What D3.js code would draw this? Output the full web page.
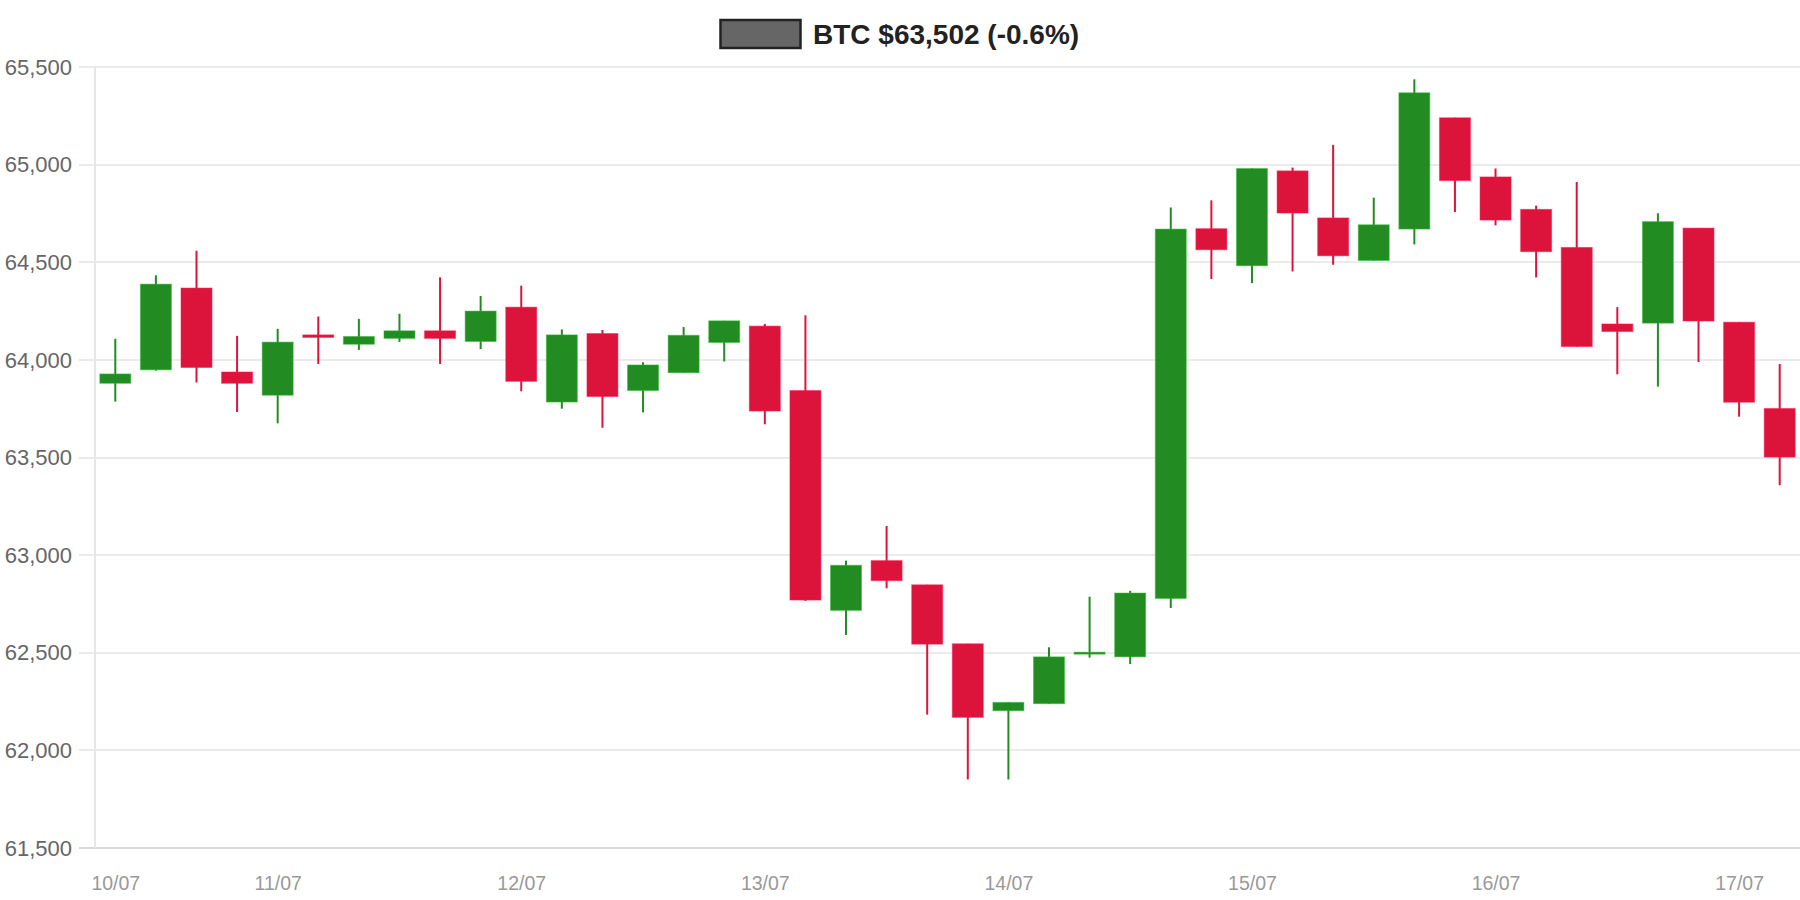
<!DOCTYPE html>
<html>
<head>
<meta charset="utf-8">
<script src="https://cdn.jsdelivr.net/npm/d3@7"></script>
<style>
  body { margin: 0; background: #fff; }
  svg { display: block; font-family: "Liberation Sans", Arial, sans-serif; }
</style>
</head>
<body>
<svg id="chart"></svg>
<script>
// candle data (4h candles, BTC)
const opens  = [63880, 63949, 64368, 63938, 63819, 64128, 64080, 64110, 64149, 64094, 64270, 63784, 64135, 63843,
                63934, 64089, 64173, 63843, 62717, 62972, 62848, 62546, 62203, 62239, 62497, 62479, 62778, 64672,
                64482, 64968, 64727, 64509, 64670, 65240, 64937, 64771, 64576, 64184, 64188, 64675, 64193, 63751];
const highs  = [64108, 64433, 64559, 64123, 64159, 64222, 64210, 64236, 64423, 64327, 64380, 64156, 64153, 63988,
                64168, 64200, 64184, 64229, 62972, 63149, 62848, 62546, 62246, 62528, 62787, 62817, 64781, 64817,
                64980, 64985, 65101, 64831, 65437, 65240, 64980, 64790, 64911, 64270, 64751, 64675, 64193, 63979];
const lows   = [63786, 63945, 63884, 63733, 63675, 63979, 64051, 64092, 63979, 64055, 63839, 63750, 63652, 63731,
                63934, 63992, 63670, 62765, 62591, 62830, 62183, 61851, 61851, 62239, 62475, 62442, 62729, 64414,
                64393, 64453, 64487, 64509, 64591, 64757, 64689, 64422, 64068, 63926, 63863, 63989, 63709, 63358];
const closes = [63928, 64388, 63961, 63880, 64091, 64115, 64120, 64149, 64110, 64250, 63890, 64128, 63812, 63974,
                64126, 64200, 63738, 62770, 62948, 62869, 62544, 62169, 62246, 62479, 62503, 62806, 64670, 64564,
                64980, 64752, 64533, 64692, 65368, 64918, 64716, 64554, 64068, 64145, 64708, 64199, 63783, 63502];

// axis ticks
const xTickIdx = [0, 4, 10, 16, 22, 28, 34, 40];
const xTickLabels = ["10/07", "11/07", "12/07", "13/07", "14/07", "15/07", "16/07", "17/07"];
const yTicks = [61500, 62000, 62500, 63000, 63500, 64000, 64500, 65000, 65500];

const titleText = "BTC $63,502 (-0.6%)";

const widthSVG = 1800;
const heightSVG = 900;
const margins = { top: 67, bottom: 52, left: 95, right: 0 };

const svg = d3.select('svg#chart')
  .attr('width', widthSVG)
  .attr('height', heightSVG);

const x = d3.scaleLinear()
  .domain([-0.5, opens.length - 0.5])
  .range([margins.left, widthSVG - margins.right]);

const y = d3.scaleLinear()
  .domain([61500, 65500])
  .range([heightSVG - margins.bottom, margins.top]);

const bodyW = 31;
const up = '#228b22';
const down = '#dc143c';

// horizontal gridlines, starting a bit left of the axis
const grid = svg.append('g').attr('class', 'grid');
grid.selectAll('line')
  .data(yTicks)
  .enter()
  .append('line')
  .attr('x1', margins.left - 16)
  .attr('x2', widthSVG)
  .attr('y1', d => Math.round(y(d)))
  .attr('y2', d => Math.round(y(d)))
  .style('stroke', d => d === 61500 ? '#d9d9d9' : '#ebebeb')
  .style('stroke-width', '2px');

// y labels
svg.append('g')
  .selectAll('text')
  .data(yTicks)
  .enter()
  .append('text')
  .attr('x', 72)
  .attr('y', d => y(d))
  .attr('dy', '0.35em')
  .style('text-anchor', 'end')
  .style('font-size', '22px')
  .style('fill', '#666')
  .text(d => d3.format(',')(d));

// left axis line
svg.append('line')
  .attr('x1', margins.left)
  .attr('x2', margins.left)
  .attr('y1', y(65500))
  .attr('y2', y(61500))
  .style('stroke', '#e6e6e6')
  .style('stroke-width', '2px');

// x labels
const xAxis = d3.axisBottom(x)
  .tickValues(xTickIdx)
  .tickSize(0)
  .tickPadding(28)
  .tickFormat((d, i) => xTickLabels[i]);

const xG = svg.append('g')
  .attr('class', 'x axis')
  .attr('transform', `translate(0, ${y(61500)})`)
  .call(xAxis);
xG.select('.domain').remove();
xG.selectAll('text')
  .style('font-size', '19.5px')
  .style('font-family', '"Liberation Sans", Arial, sans-serif')
  .style('fill', '#999');

// candles
const idx = d3.range(opens.length);
const candles = svg.append('g')
  .selectAll('g.candle')
  .data(idx)
  .enter()
  .append('g')
  .attr('class', 'candle');

candles.append('line')
  .attr('x1', i => x(i))
  .attr('x2', i => x(i))
  .attr('y1', i => y(highs[i]))
  .attr('y2', i => y(lows[i]))
  .style('stroke', i => closes[i] >= opens[i] ? up : down)
  .style('stroke-width', '2px');

candles.append('rect')
  .attr('x', i => x(i) - bodyW / 2)
  .attr('y', i => y(Math.max(opens[i], closes[i])))
  .attr('width', bodyW)
  .attr('height', i => Math.max(2, Math.abs(y(opens[i]) - y(closes[i]))))
  .style('fill', i => closes[i] >= opens[i] ? up : down)
  .style('stroke', i => d3.color(closes[i] >= opens[i] ? up : down).brighter(0.9))
  .style('stroke-opacity', 0.5)
  .style('stroke-width', '1px');

// legend / title
const legend = svg.append('g').attr('class', 'legend');
legend.append('rect')
  .attr('x', 720.5)
  .attr('y', 20)
  .attr('width', 80)
  .attr('height', 28)
  .style('fill', '#666')
  .style('stroke', '#222')
  .style('stroke-width', '2.5px');
legend.append('text')
  .attr('x', 813)
  .attr('y', 34.5)
  .attr('dy', '0.35em')
  .style('font-size', '28px')
  .style('font-weight', '700')
  .style('fill', '#222')
  .text(titleText);
</script>
</body>
</html>
